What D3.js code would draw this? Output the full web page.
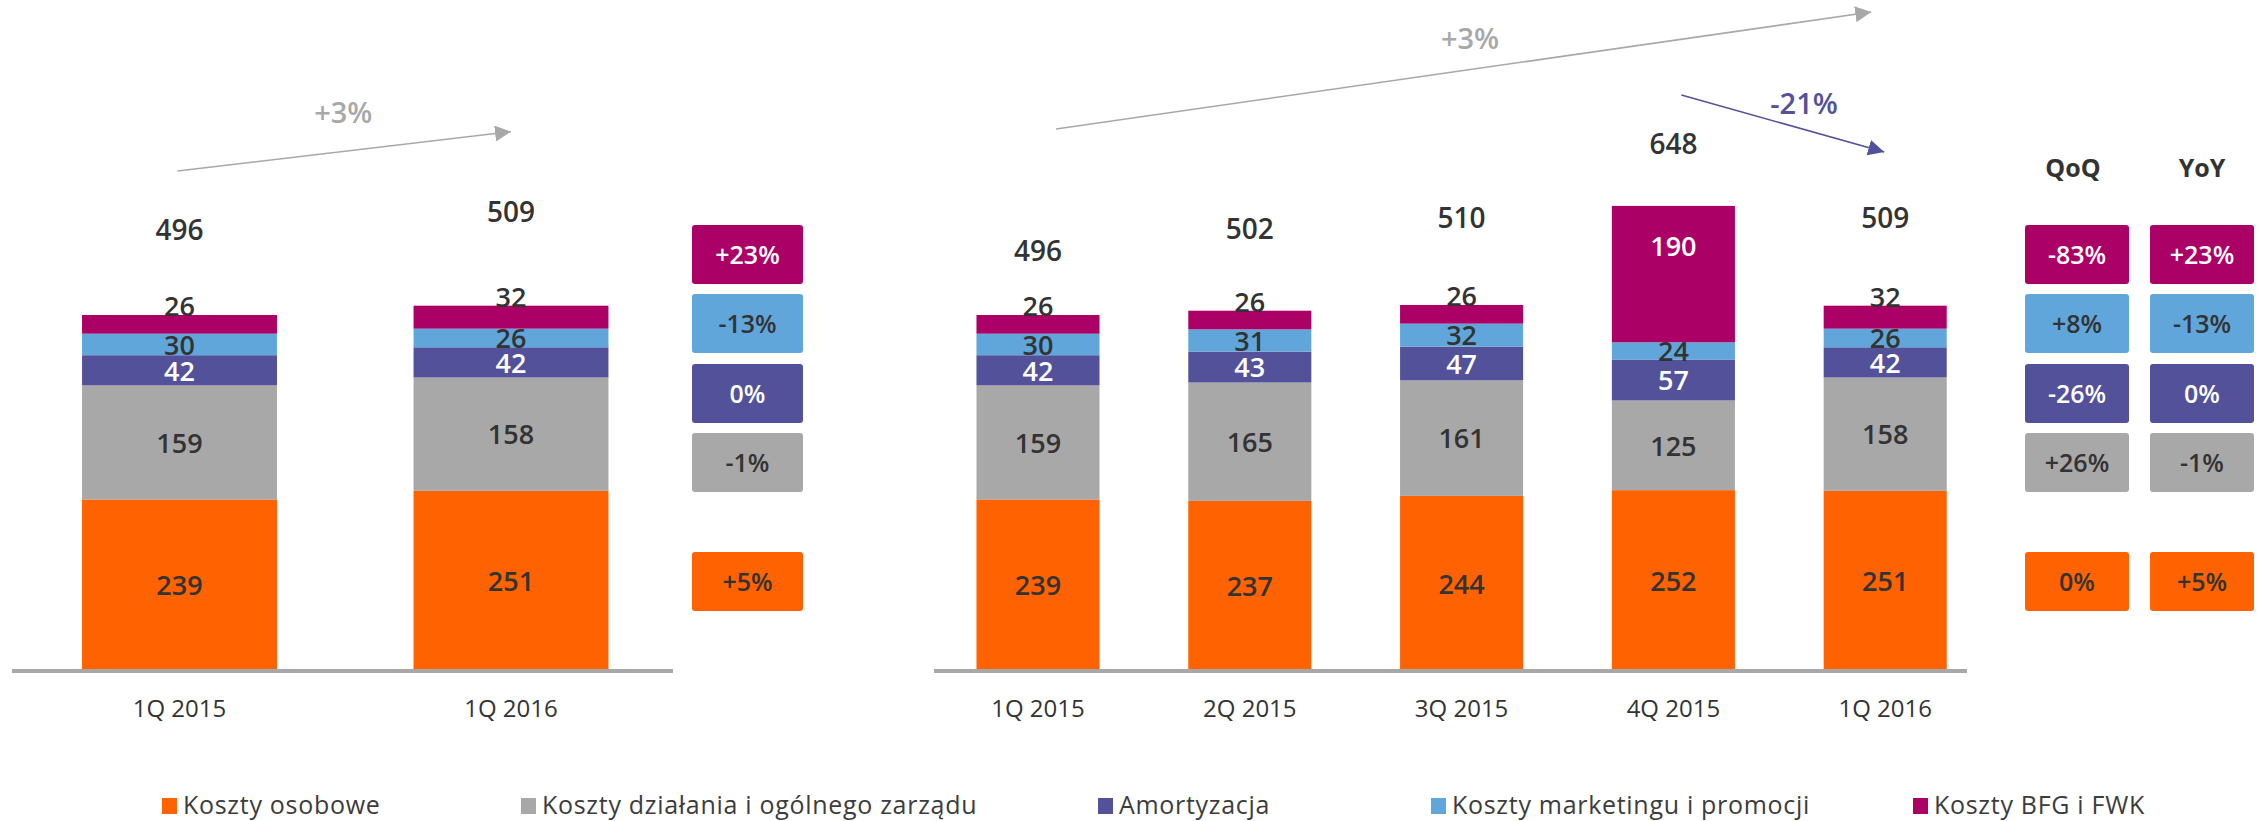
<!DOCTYPE html>
<html>
<head>
<meta charset="utf-8">
<script src="https://cdn.jsdelivr.net/npm/d3@7"></script>
<style>
  html, body { margin: 0; padding: 0; background: #ffffff; }
  svg { display: block; font-family: "Open Sans", "DejaVu Sans", sans-serif; }
</style>
</head>
<body>
<svg id="chart" width="2259" height="821"></svg>
<script>
// ---------------- DATA ----------------
const seriesNames = ["Koszty osobowe", "Koszty działania i ogólnego zarządu", "Amortyzacja", "Koszty marketingu i promocji", "Koszty BFG i FWK"];
const seriesKeys = ["personnel", "admin", "amort", "marketing", "bfg"];

const leftCategories = ["1Q 2015", "1Q 2016"];
const leftPersonnel = [239, 251];
const leftAdmin = [159, 158];
const leftAmort = [42, 42];
const leftMarketing = [30, 26];
const leftBfg = [26, 32];
const leftTotals = [496, 509];
const leftYoY = ["+5%", "-1%", "0%", "-13%", "+23%"];      // in series order
const leftTrendLabel = "+3%";

const rightCategories = ["1Q 2015", "2Q 2015", "3Q 2015", "4Q 2015", "1Q 2016"];
const rightPersonnel = [239, 237, 244, 252, 251];
const rightAdmin = [159, 165, 161, 125, 158];
const rightAmort = [42, 43, 47, 57, 42];
const rightMarketing = [30, 31, 32, 24, 26];
const rightBfg = [26, 26, 26, 190, 32];
const rightTotals = [496, 502, 510, 648, 509];
const rightQoQ = ["0%", "+26%", "-26%", "+8%", "-83%"];   // in series order
const rightYoY = ["+5%", "-1%", "0%", "-13%", "+23%"];    // in series order
const rightTrendLabel = "+3%";
const rightDropLabel = "-21%";
const changeHeaders = ["QoQ", "YoY"];

// ---------------- STYLE / LAYOUT ----------------
const colors = ["#FF6200", "#A8A8A8", "#525199", "#60A6DA", "#AB0066"];
const boxTextColors = ["#333333", "#333333", "#ffffff", "#333333", "#ffffff"];
const segTextColors = ["#333333", "#333333", "#ffffff", "#333333", "#333333"];
const textDark = "#333333";
const baseY = 671;
const pxPerUnit = 0.7177;
const boxTops = [552, 433, 364, 294, 225];   // per series
const boxH = 59;
const leftTotalLift = [75, 84];
const rightTotalLift = [54, 72, 77, 52, 78];

const svg = d3.select("#chart");
svg.append("rect").attr("width", 2259).attr("height", 821).attr("fill", "#fff");

const y = d3.scaleLinear().domain([0, 700]).range([baseY, baseY - 700 * pxPerUnit]);

const defs = svg.append("defs");
function marker(id, color) {
  defs.append("marker").attr("id", id)
    .attr("viewBox", "0 0 10 10").attr("refX", 10).attr("refY", 5)
    .attr("markerWidth", 16).attr("markerHeight", 16)
    .attr("markerUnits", "userSpaceOnUse")
    .attr("orient", "auto")
    .append("path").attr("d", "M0,0 L10,5 L0,10 Z").attr("fill", color);
}
marker("arrGray", "#A8A8A8");
marker("arrPurple", "#525199");

function buildRows(cats, arrs) {
  return cats.map((c, i) => {
    const r = { cat: c };
    seriesKeys.forEach((k, j) => r[k] = arrs[j][i]);
    return r;
  });
}

function drawStack(g, cats, arrs, totals, x, lifts) {
  const rows = buildRows(cats, arrs);
  const stacked = d3.stack().keys(seriesKeys)(rows);

  const layer = g.selectAll("g.layer").data(stacked).join("g").attr("class", "layer")
    .attr("fill", (d, i) => colors[i]);
  layer.selectAll("rect").data(d => d).join("rect")
    .attr("x", d => x(d.data.cat))
    .attr("width", x.bandwidth())
    .attr("y", d => y(d[1]))
    .attr("height", d => y(d[0]) - y(d[1]));

  // segment labels
  stacked.forEach((s, si) => {
    s.forEach(d => {
      const h = y(d[0]) - y(d[1]);
      const cx = x(d.data.cat) + x.bandwidth() / 2;
      const val = d[1] - d[0];
      let ty, fill = segTextColors[si], dy = "0.38em";
      if (si === 4 && h < 40) { ty = y(d[1]) + 1; dy = "0"; }
      else if (si === 4) { ty = y(d[1]) + 40; fill = "#ffffff"; }
      else { ty = (y(d[0]) + y(d[1])) / 2; }
      g.append("text").attr("x", cx).attr("y", ty).attr("dy", dy)
        .attr("text-anchor", "middle").attr("font-size", 27).attr("font-weight", 600)
        .attr("fill", fill).text(val);
    });
  });

  // totals
  g.selectAll("text.total").data(rows).join("text").attr("class", "total")
    .attr("x", d => x(d.cat) + x.bandwidth() / 2)
    .attr("y", (d, i) => y(totals[i]) - lifts[i])
    .attr("text-anchor", "middle").attr("font-size", 28).attr("font-weight", 600)
    .attr("fill", textDark).text((d, i) => totals[i]);

  // category labels
  g.selectAll("text.cat").data(cats).join("text").attr("class", "cat")
    .attr("x", d => x(d) + x.bandwidth() / 2)
    .attr("y", baseY + 46)
    .attr("text-anchor", "middle").attr("font-size", 24)
    .attr("fill", textDark).text(d => d);
}

function drawBoxes(g, x0, w, labels) {
  labels.forEach((lab, i) => {
    g.append("rect").attr("x", x0).attr("y", boxTops[i]).attr("width", w).attr("height", boxH)
      .attr("rx", 3).attr("fill", colors[i]);
    g.append("text").attr("x", x0 + w / 2).attr("y", boxTops[i] + boxH / 2).attr("dy", "0.37em")
      .attr("text-anchor", "middle").attr("font-size", 25).attr("font-weight", 600)
      .attr("fill", boxTextColors[i]).text(lab);
  });
}

function arrow(g, x1, y1, x2, y2, color, mid) {
  g.append("line").attr("x1", x1).attr("y1", y1).attr("x2", x2).attr("y2", y2)
    .attr("stroke", color).attr("stroke-width", 1.6).attr("marker-end", `url(#${mid})`);
}

// ---------------- LEFT CHART ----------------
const xL = d3.scaleBand().domain(leftCategories).range([13.75, 676.75]).paddingInner(0.412).paddingOuter(0.206);
const gL = svg.append("g");
drawStack(gL, leftCategories, [leftPersonnel, leftAdmin, leftAmort, leftMarketing, leftBfg], leftTotals, xL, leftTotalLift);
gL.append("line").attr("x1", 12).attr("x2", 673).attr("y1", baseY).attr("y2", baseY)
  .attr("stroke", "#A8A8A8").attr("stroke-width", 4);
drawBoxes(gL, 692, 111, leftYoY);
{
  const c1 = xL(leftCategories[0]) + xL.bandwidth() / 2;
  const c2 = xL(leftCategories[1]) + xL.bandwidth() / 2;
  arrow(gL, c1 - 2, y(leftTotals[0]) - 144, c2, y(leftTotals[1]) - 174, "#A8A8A8", "arrGray");
  gL.append("text").attr("x", (c1 + c2) / 2 - 2).attr("y", 123).attr("text-anchor", "middle")
    .attr("font-size", 29).attr("font-weight", 600).attr("fill", "#A8A8A8").text(leftTrendLabel);
}

// ---------------- RIGHT CHART ----------------
const xR = d3.scaleBand().domain(rightCategories).range([932.1, 1991.1]).paddingInner(0.419).paddingOuter(0.2095);
const gR = svg.append("g");
drawStack(gR, rightCategories, [rightPersonnel, rightAdmin, rightAmort, rightMarketing, rightBfg], rightTotals, xR, rightTotalLift);
gR.append("line").attr("x1", 934).attr("x2", 1967).attr("y1", baseY).attr("y2", baseY)
  .attr("stroke", "#A8A8A8").attr("stroke-width", 4);
drawBoxes(gR, 2025, 104, rightQoQ);
drawBoxes(gR, 2150, 104, rightYoY);
changeHeaders.forEach((h, i) => {
  gR.append("text").attr("x", [2073, 2202][i]).attr("y", 177).attr("text-anchor", "middle")
    .attr("font-size", 25).attr("font-weight", 700).attr("fill", textDark).text(h);
});
{
  const c = i => xR(rightCategories[i]) + xR.bandwidth() / 2;
  arrow(gR, c(0) + 18, 129, c(4) - 14, 12, "#A8A8A8", "arrGray");
  gR.append("text").attr("x", 1470).attr("y", 49).attr("text-anchor", "middle")
    .attr("font-size", 29).attr("font-weight", 600).attr("fill", "#A8A8A8").text(rightTrendLabel);
  arrow(gR, c(3) + 8, 95, c(4) - 1, 152, "#525199", "arrPurple");
  gR.append("text").attr("x", 1804).attr("y", 114).attr("text-anchor", "middle")
    .attr("font-size", 29).attr("font-weight", 600).attr("fill", "#525199").text(rightDropLabel);
}

// ---------------- LEGEND ----------------
const legendX = [162, 521, 1098, 1431, 1913];
const lg = svg.append("g");
const items = lg.selectAll("g").data(seriesNames).join("g")
  .attr("transform", (d, i) => `translate(${legendX[i]},798)`);
items.append("rect").attr("width", 15).attr("height", 16).attr("fill", (d, i) => colors[i]);
items.append("text").attr("x", 21).attr("y", 16).attr("font-size", 25).attr("letter-spacing", 0.7)
  .attr("fill", "#3c3c3c").text(d => d);
</script>
</body>
</html>
